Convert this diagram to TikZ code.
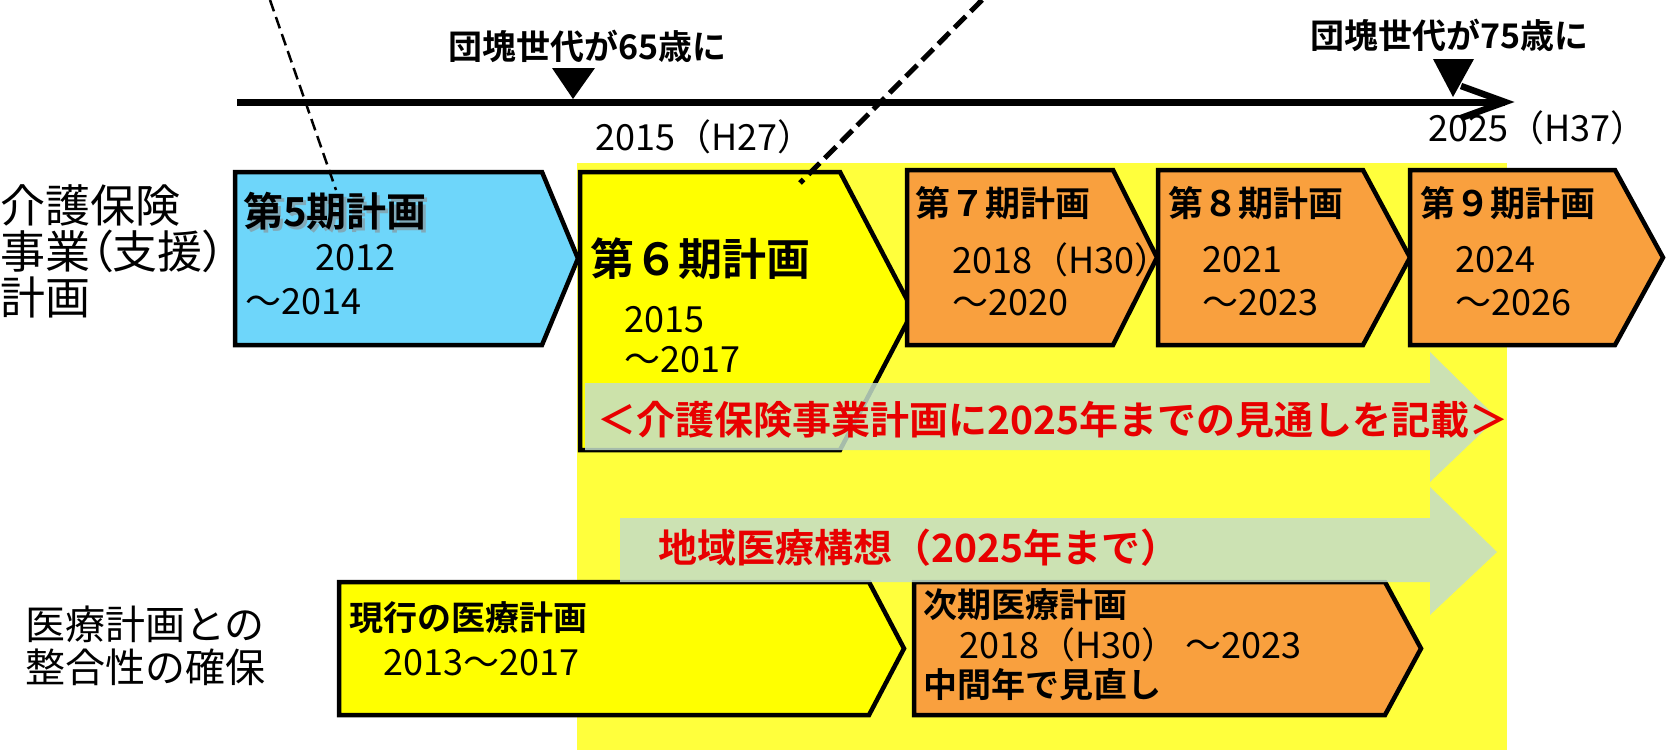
\documentclass[tikz,border=0pt]{standalone}
\usepackage{fontspec}
\setmainfont{Noto Sans CJK JP}[BoldFont={Noto Sans CJK JP Bold}]
\usetikzlibrary{arrows.meta}
\newcommand\setfs[1]{\fontsize{#1}{#1}\selectfont}
\newcommand\pentbox[6]{% pentagon: style, x1, y1, x2, y2, depth
  \path[#1] (#2,#3) -- ({#4-#6},#3) -- (#4,{(#3+#5)/2}) -- ({#4-#6},#5) -- (#2,#5) -- cycle;}
\definecolor{cblue}{RGB}{110,214,250}
\definecolor{cyel}{RGB}{255,255,0}
\definecolor{cbg}{RGB}{255,255,60}
\definecolor{corg}{RGB}{249,160,62}
\definecolor{cgreen}{RGB}{196,222,200}
\definecolor{cred}{RGB}{232,0,0}
\begin{document}
\begin{tikzpicture}[x=1pt,y=-1pt,
  boxline/.style={draw=black, line width=4.5pt, line join=miter},
  bluebox/.style={boxline, fill=cblue},
  yelbox/.style={boxline, fill=cyel},
  orgbox/.style={boxline, fill=corg},
  greenarrow/.style={fill=cgreen, fill opacity=0.85},
  lbl/.style={inner sep=0pt, anchor=west, text=black},
  num/.style={lbl, font=\setfs{36}},
  side/.style={lbl, font=\setfs{45}},
  headb/.style={lbl, font=\bfseries\setfs{#1}},
  redtxt/.style={lbl, text=cred, font=\bfseries\setfs{#1}},
  tri/.style={fill=black}]
\useasboundingbox (0,0) rectangle (1672,750);
\fill[white] (0,0) rectangle (1672,750);
% yellow background
\fill[cbg] (577,163) rectangle (1507,750);
% pentagons
\pentbox{bluebox}{235}{172}{578}{345}{36}
\pentbox{yelbox}{580}{172}{913}{450}{73}
\pentbox{orgbox}{907}{170}{1157}{345}{44}
\pentbox{orgbox}{1158}{170}{1410}{345}{47}
\pentbox{orgbox}{1410}{170}{1663}{345}{48}
\pentbox{yelbox}{339}{582}{904}{715}{35}
\pentbox{orgbox}{914}{582}{1421}{715}{36}
% green arrows
\path[greenarrow] (585,383) -- (1430,383) -- (1430,352) -- (1497,418) -- (1430,482) -- (1430,450) -- (585,450) -- cycle;
\path[greenarrow] (620,518) -- (1430,518) -- (1430,487) -- (1497,552) -- (1430,615) -- (1430,582) -- (620,582) -- cycle;
% timeline
\coordinate (tl0) at (237,102);
\coordinate (tl1) at (1505,102);
\draw[line width=7pt] (tl0) -- (tl1);
\draw[line width=6.5pt, line join=miter] ([shift={(-44,-16)}]tl1) -- (tl1) -- ([shift={(-44,16)}]tl1);
\path[tri] (552,68) -- (595,68) -- (573,99) -- cycle;
\path[tri] (1433,59) -- (1474,59) -- (1453,97) -- cycle;
% top labels
\node[headb=34] (t65) at (448,46) {団塊世代が65歳に};
\node[headb=34] (t75) at (1310,35) {団塊世代が75歳に};
\node[num] (y2015) at (595,137) {2015（H27）};
\node[num] (y2025) at (1428,128) {2025（H37）};
% side labels
\node[side] (l1) at (0,205) {介護保険};
\node[side] (l2) at (0,251) {\addfontfeatures{RawFeature=+palt}事業（支援）};
\node[side] (l3) at (0,297) {計画};
\node[lbl, font=\setfs{40}] (m1) at (25,624) {医療計画との};
\node[lbl, font=\setfs{40}] (m2) at (25,667) {整合性の確保};
% box 5
\node[headb=40, text=black!45, opacity=0.6] (p5s) at (246,214) {第5期計画};
\node[headb=40] (p5) at (243,211) {第5期計画};
\node[num] (p5a) at (315,258) {2012};
\node[num] (p5b) at (245,302) {～2014};
% box 6
\node[headb=44] (p6) at (590,259) {第６期計画};
\node[num] (p6a) at (624,320) {2015};
\node[num] (p6b) at (624,360) {～2017};
% box 7
\node[headb=35] (p7) at (915,203) {第７期計画};
\node[num] (p7a) at (952,260) {2018（H30）};
\node[num] (p7b) at (952,303) {～2020};
% box 8
\node[headb=35] (p8) at (1168,203) {第８期計画};
\node[num] (p8a) at (1202,260) {2021};
\node[num] (p8b) at (1202,303) {～2023};
% box 9
\node[headb=35] (p9) at (1420,203) {第９期計画};
\node[num] (p9a) at (1455,260) {2024};
\node[num] (p9b) at (1455,303) {～2026};
% red arrow texts
\node[redtxt=39] (r1) at (597,420) {＜介護保険事業計画に2025年までの見通しを記載＞};
\node[redtxt=39] (r2) at (658,548) {地域医療構想（2025年まで）};
% bottom boxes
\node[headb=34] (g1) at (349,618) {現行の医療計画};
\node[num] (g1a) at (383,663) {2013～2017};
\node[headb=34] (n1) at (923,605) {次期医療計画};
\node[num] (n1a) at (959,645) {2018（H30） ～2023};
\node[headb=34] (n1b) at (923,685) {中間年で見直し};
% dashed callout lines
\coordinate (d1a) at (270,0);
\coordinate (d1b) at (336,190);
\draw[line width=2.5pt, dash pattern=on 12pt off 6pt] (d1a) -- (d1b);
\coordinate (d2a) at (982,0);
\coordinate (d2b) at (800,183);
\draw[line width=5pt, dash pattern=on 16pt off 7pt] (d2a) -- (d2b);
\end{tikzpicture}
\end{document}
